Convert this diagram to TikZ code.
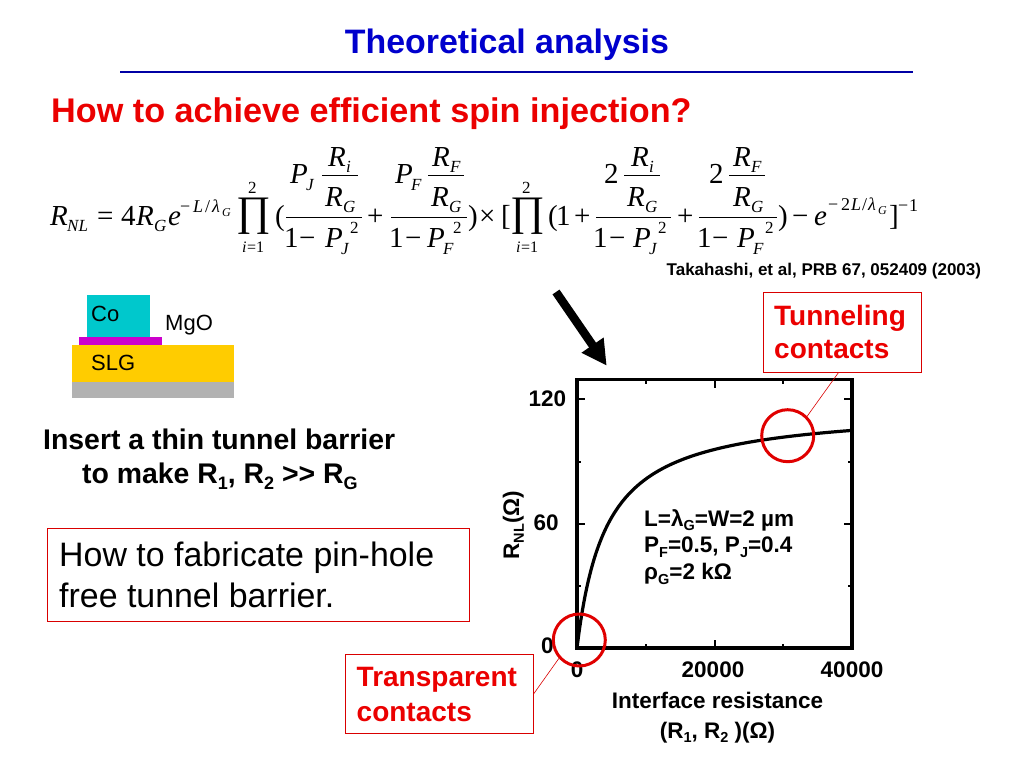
\documentclass[tikz,border=0pt]{standalone}
\usepackage{fontspec}
\setmainfont{Liberation Sans}
\newfontfamily\tms{Liberation Serif}
\usetikzlibrary{arrows.meta}
\newcommand{\fs}[1]{\fontsize{#1}{#1}\selectfont}
\newcommand{\bsub}[1]{\raisebox{-0.22em}{\fontsize{14.5}{14.5}\selectfont #1}}
\newcounter{mc}
% formula pieces: x y size text
\newcommand{\mt}[4]{\stepcounter{mc}\node[mathpiece] (m\arabic{mc}) at (#1,#2) {\fs{#3}\tms #4};}
\newcommand{\mi}[4]{\stepcounter{mc}\node[mathpiece] (m\arabic{mc}) at (#1,#2) {\fs{#3}\tms\itshape #4};}
\newcommand{\RR}[3]{\mi{#1}{#2}{29}{R}\mi{#1+18}{#2+6}{17}{#3}}
\newcommand{\PP}[3]{\mi{#1}{#2}{29}{P}\mi{#1+16}{#2+7}{17}{#3}}
\newcommand{\prodsym}[1]{\mt{#1+12}{193}{17}{2}\mi{#1+6}{252}{16}{i}\mt{#1+11}{252}{16}{=1}\mt{#1}{225}{42}{∏}}
\tikzset{
  mathpiece/.style={anchor=base west,inner sep=0pt,text=black},
  label/.style={anchor=base west,inner sep=0pt,font=\bfseries\fs{22.5}},
  labelc/.style={anchor=base,inner sep=0pt,font=\bfseries\fs{22.5}},
  redbox/.style={draw=red!85!black,line width=0.9pt,fill=white},
  redlink/.style={draw=red!85!black,line width=0.6pt},
  ring/.style={circle,draw=red!88!black,line width=3pt,minimum size=52pt,inner sep=0pt},
  redtxt/.style={anchor=base west,inner sep=0pt,text=red!92!black,font=\bfseries\fs{28}},
  axisframe/.style={draw=black,line width=3.6pt},
  tick/.style={line width=2pt},
  fbar/.style={line width=0.9pt},
  sbar/.style={line width=0.5pt},
}
\definecolor{ttl}{RGB}{0,0,205}
\definecolor{cyn}{RGB}{0,200,204}
\definecolor{mgn}{RGB}{204,0,204}
\definecolor{ylw}{RGB}{255,204,0}
\definecolor{gry}{RGB}{178,178,178}
\begin{document}
\begin{tikzpicture}[x=1pt,y=-1pt]
\useasboundingbox (0,0) rectangle (1024,768);
% title
\node[anchor=base,inner sep=0pt,text=ttl,font=\bfseries\fs{33.9}] (title) at (507,53) {Theoretical analysis};
\coordinate (ruleL) at (120,72); \coordinate (ruleR) at (913,72);
\draw[draw=ttl!80!black,line width=2.6pt] (ruleL) -- (ruleR);
\node[anchor=base west,inner sep=0pt,text=red!92!black,font=\bfseries\fs{34.2}] (q) at (51,122) {How to achieve efficient spin injection?};
% formula
\mi{50}{225}{29}{R}\mi{67}{231}{17}{NL}
\mt{97}{225}{29}{=}\mt{121}{225}{29}{4}
\RR{136}{225}{G}
\mi{168}{225}{29}{e}
\mt{180}{212}{18}{−}\mi{193}{212}{18}{L}\mt{205}{212}{18}{/}\mi{212}{212}{18}{λ}\mi{222}{216}{12}{G}
\prodsym{236}
\mt{275}{225}{29}{(}
\draw[fbar] (286,217) -- (362,217);
\PP{290}{183}{J}
\draw[sbar] (322,175) -- (358,175);
\mi{328}{166}{29}{R}\mi{346}{172}{17}{i}
\RR{325}{206.5}{G}
\mt{284}{247}{29}{1}\mt{299}{247}{29}{−}\PP{325}{247}{J}\mt{350}{233}{17}{2}
\mt{367}{225}{29}{+}
\draw[fbar] (391,217) -- (467,217);
\PP{395}{183}{F}
\draw[sbar] (428,175) -- (464,175);
\RR{432}{166}{F}
\RR{431}{206.5}{G}
\mt{389}{247}{29}{1}\mt{405}{247}{29}{−}\PP{427}{247}{F}\mt{453}{233}{17}{2}
\mt{468}{225}{29}{)}\mt{479}{225}{29}{×}\mt{501}{225}{29}{[}
\prodsym{510}
\mt{548}{225}{29}{(}\mt{556}{225}{29}{1}\mt{574}{225}{29}{+}
\draw[fbar] (596,217) -- (671,217);
\mt{604}{183}{29}{2}
\draw[sbar] (624,175) -- (660,175);
\mi{631}{166}{29}{R}\mi{649}{172}{17}{i}
\RR{627}{206.5}{G}
\mt{593}{247}{29}{1}\mt{609}{247}{29}{−}\PP{633}{247}{J}\mt{658}{233}{17}{2}
\mt{677}{225}{29}{+}
\draw[fbar] (699,217) -- (777,217);
\mt{709}{183}{29}{2}
\draw[sbar] (729,175) -- (765,175);
\RR{733}{166}{F}
\RR{733}{206.5}{G}
\mt{697}{247}{29}{1}\mt{712}{247}{29}{−}\PP{737}{247}{F}\mt{765}{233}{17}{2}
\mt{778}{225}{29}{)}\mt{792}{225}{29}{−}\mi{814}{225}{29}{e}
\mt{828}{210}{18}{−}\mt{841}{210}{18}{2}\mi{851}{210}{18}{L}\mt{862}{210}{18}{/}\mi{868}{210}{18}{λ}\mi{878}{214}{12}{G}
\mt{889}{225}{29}{]}\mt{898}{211}{18}{−}\mt{909}{211}{18}{1}
\node[anchor=base west,inner sep=0pt,font=\bfseries\fs{17}] (cite) at (666.5,275) {Takahashi, et al, PRB 67, 052409 (2003)};
% layer stack
\fill[cyn] (87,295) rectangle (150,337);
\fill[gry] (72,382) rectangle (233.5,397.5);
\fill[ylw] (72,344.5) rectangle (233.5,382);
\fill[mgn] (79,336.7) rectangle (162.3,344.7);
\node[anchor=base west,inner sep=0pt,font=\fs{22}] (co) at (91,321) {Co};
\node[anchor=base west,inner sep=0pt,font=\fs{22}] (mgo) at (165,330) {MgO};
\node[anchor=base west,inner sep=0pt,font=\fs{22}] (slg) at (91,370) {SLG};
\node[anchor=base west,inner sep=0pt,font=\bfseries\fs{28.4}] (ins) at (43,449) {Insert a thin tunnel barrier};
\node[anchor=base west,inner sep=0pt,font=\bfseries\fs{28.4}] (mk) at (82,483) {to make R\raisebox{-0.22em}{\fs{18}1}, R\raisebox{-0.22em}{\fs{18}2} >{}> R\raisebox{-0.22em}{\fs{18}G}};
% how-to box
\node[redbox,anchor=north west,minimum width=421.4pt,minimum height=93pt,inner sep=0pt] (howbox) at (47.3,528.3) {};
\node[anchor=base west,inner sep=0pt,font=\fs{33.9}] (how1) at (59,566) {How to fabricate pin-hole};
\node[anchor=base west,inner sep=0pt,font=\fs{33.9}] (how2) at (59,607) {free tunnel barrier.};
% arrow
\coordinate (arT) at (556,292); \coordinate (arH) at (606.7,365.7);
\draw[line width=8.5pt,-{Triangle[length=25pt,width=25pt]}] (arT) -- (arH);
% plot
\draw[axisframe] (577,379.5) rectangle (852,648);
\foreach \x in {645.7,783.3} {\draw[tick] (\x,648) -- (\x,644); \draw[tick] (\x,379.5) -- (\x,383.5);}
\foreach \x in {714.5} {\draw[tick] (\x,648) -- (\x,640); \draw[tick] (\x,379.5) -- (\x,387.5);}
\foreach \y in {461.5,586} {\draw[tick] (577,\y) -- (581,\y); \draw[tick] (852,\y) -- (848,\y);}
\foreach \y in {399,523.5} {\draw[tick] (577,\y) -- (585,\y); \draw[tick] (852,\y) -- (844,\y);}
\draw[line width=3.2pt,line join=round] plot[smooth,domain=0:6.3246,samples=80,variable=\s]
  ({577+6.875*\s*\s},{648-2.075*116*\s*\s/(\s*\s+4.247)});
\node[label] (y120) at (528.5,406.5) {120};
\node[label] (y60) at (533.5,530.5) {60};
\node[label] (y0) at (541,653.5) {0};
\node[labelc] (x0) at (577,677) {0};
\node[labelc] (x2) at (713,677) {20000};
\node[labelc] (x4) at (852,677) {40000};
\node[labelc] (xl1) at (717.5,708) {Interface resistance};
\node[labelc] (xl2) at (717.5,738) {(R\bsub{1}, R\bsub{2} )(Ω)};
\node[anchor=base,inner sep=0pt,rotate=90,font=\bfseries\fs{22.5}] (yl) at (519,525) {R\bsub{NL}(Ω)};
\node[label] (p1) at (644,526) {L=λ\bsub{G}=W=2 µm};
\node[label] (p2) at (644,552.7) {P\bsub{F}=0.5, P\bsub{J}=0.4};
\node[label] (p3) at (644,579.3) {ρ\bsub{G}=2 kΩ};
% callouts
\node[ring] (ringT) at (787.7,435.7) {};
\node[ring] (ringB) at (579.3,640) {};
\node[redbox,anchor=north west,minimum width=158.6pt,minimum height=80pt,inner sep=0pt] (tbox) at (762.7,291.7) {};
\node[redtxt] (t1) at (774,325.7) {Tunneling};
\node[redtxt] (t2) at (774,358.3) {contacts};
\node[redbox,anchor=north west,minimum width=187.4pt,minimum height=79pt,inner sep=0pt] (pbox) at (345.3,654) {};
\node[redtxt] (c1) at (356.5,686) {Transparent};
\node[redtxt] (c2) at (356.5,721) {contacts};
\draw[redlink] (tbox.south)++(-4,0) coordinate (tl) -- (ringT.45);
\draw[redlink] (pbox.east) -- (ringB.222);
\end{tikzpicture}
\end{document}
